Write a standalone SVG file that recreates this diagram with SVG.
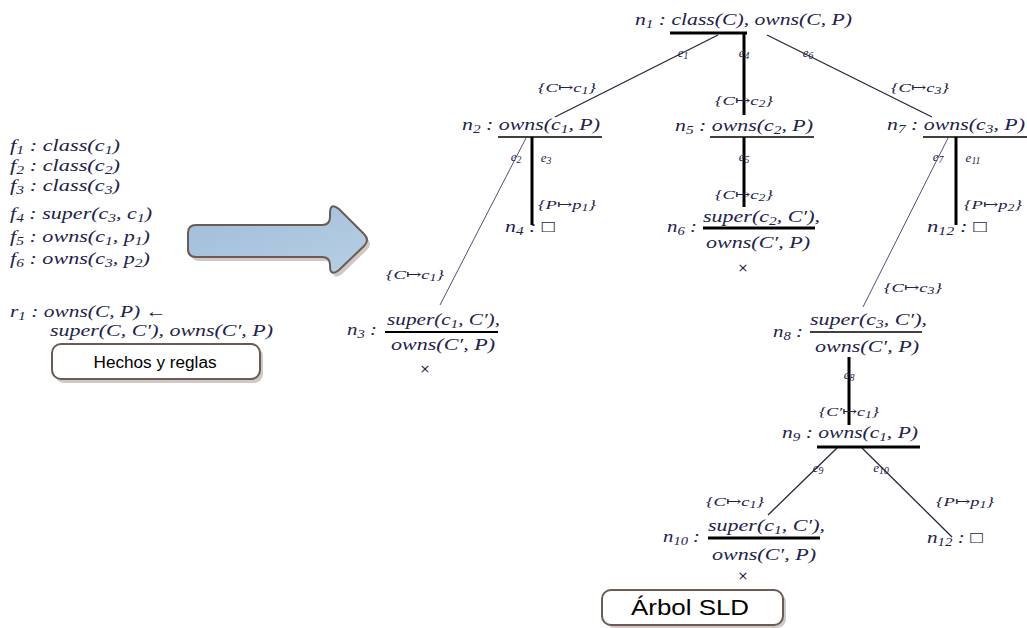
<svg xmlns="http://www.w3.org/2000/svg" width="1027" height="628" viewBox="0 0 1027 628">
<style>
.m{font-family:"Liberation Serif","DejaVu Serif",serif;font-style:italic;font-size:17px;fill:#22224a}
.l{font-family:"Liberation Serif","DejaVu Serif",serif;font-style:italic;font-size:13px;fill:#22224a}
.s{font-size:70%;baseline-shift:-3px}
.ss{font-size:75%;baseline-shift:-2px}
.c{text-anchor:middle}
.x{font-family:"DejaVu Sans",sans-serif;font-size:13px;fill:#22224a;text-anchor:middle}
.bar{stroke:#000;fill:none}
.thick{stroke:#000;stroke-width:3;fill:none}
.thin{stroke:#2a2438;stroke-width:1.3;fill:none}
.hair{stroke:#5c4a78;stroke-width:1;fill:none}
.box{fill:#fff;stroke:#6b5a55;stroke-width:2}
.shadow{fill:#cfc8c4}
.bt{font-family:"Liberation Sans",Arial,sans-serif;fill:#000;text-anchor:middle}
</style>
<defs>
<linearGradient id="ag" x1="0" y1="0" x2="1" y2="1">
<stop offset="0" stop-color="#9fbcd9"/>
<stop offset="1" stop-color="#b7cfe4"/>
</linearGradient>
</defs>

<g id="facts">
<text class="m" x="10" y="151" textLength="110" lengthAdjust="spacingAndGlyphs">f<tspan class="s">1</tspan> : class(c<tspan class="s">1</tspan>)</text>
<text class="m" x="10" y="171" textLength="110" lengthAdjust="spacingAndGlyphs">f<tspan class="s">2</tspan> : class(c<tspan class="s">2</tspan>)</text>
<text class="m" x="10" y="191" textLength="110" lengthAdjust="spacingAndGlyphs">f<tspan class="s">3</tspan> : class(c<tspan class="s">3</tspan>)</text>
<text class="m" x="10" y="219" textLength="142" lengthAdjust="spacingAndGlyphs">f<tspan class="s">4</tspan> : super(c<tspan class="s">3</tspan>, c<tspan class="s">1</tspan>)</text>
<text class="m" x="10" y="242" textLength="140" lengthAdjust="spacingAndGlyphs">f<tspan class="s">5</tspan> : owns(c<tspan class="s">1</tspan>, p<tspan class="s">1</tspan>)</text>
<text class="m" x="10" y="264" textLength="140" lengthAdjust="spacingAndGlyphs">f<tspan class="s">6</tspan> : owns(c<tspan class="s">3</tspan>, p<tspan class="s">2</tspan>)</text>
<text class="m" x="10" y="317" textLength="157" lengthAdjust="spacingAndGlyphs">r<tspan class="s">1</tspan> : owns(C, P) ←</text>
<text class="m" x="50" y="336" textLength="223" lengthAdjust="spacingAndGlyphs">super(C, C′), owns(C′, P)</text>
</g>

<g id="box-hechos">
<rect class="shadow" x="55" y="347" width="208" height="36" rx="9"/>
<rect class="box" x="52" y="344" width="208" height="35" rx="9"/>
<text class="bt" x="155" y="368" font-size="16" textLength="123" lengthAdjust="spacingAndGlyphs">Hechos y reglas</text>
</g>

<g id="big-arrow">
<path class="shadow" transform="translate(3,4)" d="M196,225 L322,225 Q330,225 330,217 L330,213 Q330,202 339,209 L364,234 Q370,240 364,246 L339,270 Q330,277 330,266 L330,265 Q330,257 322,257 L196,257 Q188,257 188,249 L188,233 Q188,225 196,225 Z"/>
<path fill="url(#ag)" stroke="#6b5a55" stroke-width="2" d="M196,225 L322,225 Q330,225 330,217 L330,213 Q330,202 339,209 L364,234 Q370,240 364,246 L339,270 Q330,277 330,266 L330,265 Q330,257 322,257 L196,257 Q188,257 188,249 L188,233 Q188,225 196,225 Z"/>
</g>

<g id="connectors">
<line class="thin" x1="718" y1="35" x2="555" y2="117"/>
<line class="thick" x1="744" y1="33" x2="744" y2="115"/>
<line class="thin" x1="767" y1="35" x2="932" y2="117"/>
<line class="hair" x1="526" y1="138" x2="440" y2="305"/>
<line class="thick" x1="532" y1="137" x2="532" y2="225"/>
<line class="thick" x1="744" y1="137" x2="744" y2="207"/>
<line class="hair" x1="948" y1="138" x2="863" y2="307"/>
<line class="thick" x1="956" y1="137" x2="956" y2="225"/>
<line class="thick" x1="849" y1="357" x2="849" y2="425"/>
<line class="thin" x1="837" y1="448" x2="768" y2="515"/>
<line class="thin" x1="862" y1="448" x2="952" y2="537"/>

<text class="l c" x="683" y="57">e<tspan class="ss">1</tspan></text>
<text class="l c" x="744" y="57">e<tspan class="ss">4</tspan></text>
<text class="l c" x="808" y="57">e<tspan class="ss">6</tspan></text>
<text class="l c" x="567" y="92" textLength="58" lengthAdjust="spacingAndGlyphs">{C↦c<tspan class="ss">1</tspan>}</text>
<text class="l c" x="744" y="105" textLength="58" lengthAdjust="spacingAndGlyphs">{C↦c<tspan class="ss">2</tspan>}</text>
<text class="l c" x="920" y="92" textLength="58" lengthAdjust="spacingAndGlyphs">{C↦c<tspan class="ss">3</tspan>}</text>
<text class="l c" x="516" y="161">e<tspan class="ss">2</tspan></text>
<text class="l c" x="546" y="162">e<tspan class="ss">3</tspan></text>
<text class="l c" x="567" y="209" textLength="58" lengthAdjust="spacingAndGlyphs">{P↦p<tspan class="ss">1</tspan>}</text>
<text class="l c" x="744" y="161">e<tspan class="ss">5</tspan></text>
<text class="l c" x="744" y="199" textLength="58" lengthAdjust="spacingAndGlyphs">{C↦c<tspan class="ss">2</tspan>}</text>
<text class="l c" x="938" y="161">e<tspan class="ss">7</tspan></text>
<text class="l c" x="973" y="162">e<tspan class="ss">11</tspan></text>
<text class="l c" x="993" y="209" textLength="58" lengthAdjust="spacingAndGlyphs">{P↦p<tspan class="ss">2</tspan>}</text>
<text class="l c" x="415" y="279" textLength="58" lengthAdjust="spacingAndGlyphs">{C↦c<tspan class="ss">1</tspan>}</text>
<text class="l c" x="913" y="292" textLength="58" lengthAdjust="spacingAndGlyphs">{C↦c<tspan class="ss">3</tspan>}</text>
<text class="l c" x="849" y="379">e<tspan class="ss">8</tspan></text>
<text class="l c" x="849" y="416" textLength="60" lengthAdjust="spacingAndGlyphs">{C′↦c<tspan class="ss">1</tspan>}</text>
<text class="l c" x="818" y="472">e<tspan class="ss">9</tspan></text>
<text class="l c" x="881" y="472">e<tspan class="ss">10</tspan></text>
<text class="l c" x="735" y="506" textLength="58" lengthAdjust="spacingAndGlyphs">{C↦c<tspan class="ss">1</tspan>}</text>
<text class="l c" x="965" y="506" textLength="58" lengthAdjust="spacingAndGlyphs">{P↦p<tspan class="ss">1</tspan>}</text>
</g>

<g id="n1">
<text class="m" x="635" y="25" textLength="217" lengthAdjust="spacingAndGlyphs">n<tspan class="s">1</tspan> : class(C), owns(C, P)</text>
<line class="thick" x1="670" y1="33" x2="747" y2="33"/>
</g>
<g id="n2">
<text class="m" x="462" y="130" textLength="138" lengthAdjust="spacingAndGlyphs">n<tspan class="s">2</tspan> : owns(c<tspan class="s">1</tspan>, P)</text>
<line class="bar" stroke-width="1.5" x1="498" y1="137" x2="602" y2="137"/>
</g>
<g id="n3">
<text class="m" x="347" y="335" textLength="30" lengthAdjust="spacingAndGlyphs">n<tspan class="s">3</tspan> :</text>
<text class="m" x="387" y="325" textLength="113" lengthAdjust="spacingAndGlyphs">super(c<tspan class="s">1</tspan>, C′),</text>
<line class="bar" stroke-width="2" x1="385" y1="332" x2="498" y2="332"/>
<text class="m c" x="443" y="350" textLength="104" lengthAdjust="spacingAndGlyphs">owns(C′, P)</text>
<text class="x" x="425" y="373">×</text>
</g>
<g id="n4">
<text class="m" x="505" y="232" textLength="50" lengthAdjust="spacingAndGlyphs">n<tspan class="s">4</tspan> : □</text>
</g>
<g id="n5">
<text class="m" x="675" y="131" textLength="138" lengthAdjust="spacingAndGlyphs">n<tspan class="s">5</tspan> : owns(c<tspan class="s">2</tspan>, P)</text>
<line class="bar" stroke-width="1.5" x1="710" y1="137" x2="814" y2="137"/>
</g>
<g id="n6">
<text class="m" x="667" y="232" textLength="30" lengthAdjust="spacingAndGlyphs">n<tspan class="s">6</tspan> :</text>
<text class="m" x="703" y="222" textLength="117" lengthAdjust="spacingAndGlyphs">super(c<tspan class="s">2</tspan>, C′),</text>
<line class="thick" x1="703" y1="228" x2="815" y2="228"/>
<text class="m c" x="758" y="248" textLength="104" lengthAdjust="spacingAndGlyphs">owns(C′, P)</text>
<text class="x" x="743" y="272">×</text>
</g>
<g id="n7">
<text class="m" x="887" y="130" textLength="138" lengthAdjust="spacingAndGlyphs">n<tspan class="s">7</tspan> : owns(c<tspan class="s">3</tspan>, P)</text>
<line class="bar" stroke-width="1.5" x1="923" y1="137" x2="1027" y2="137"/>
</g>
<g id="n12a">
<text class="m" x="927" y="232" textLength="60" lengthAdjust="spacingAndGlyphs">n<tspan class="s">12</tspan> : □</text>
</g>
<g id="n8">
<text class="m" x="773" y="337" textLength="30" lengthAdjust="spacingAndGlyphs">n<tspan class="s">8</tspan> :</text>
<text class="m" x="810" y="325" textLength="117" lengthAdjust="spacingAndGlyphs">super(c<tspan class="s">3</tspan>, C′),</text>
<line class="bar" stroke-width="1.5" x1="810" y1="332" x2="922" y2="332"/>
<text class="m c" x="867" y="352" textLength="104" lengthAdjust="spacingAndGlyphs">owns(C′, P)</text>
</g>
<g id="n9">
<text class="m" x="782" y="438" textLength="136" lengthAdjust="spacingAndGlyphs">n<tspan class="s">9</tspan> : owns(c<tspan class="s">1</tspan>, P)</text>
<line class="thick" x1="817" y1="447" x2="920" y2="447"/>
</g>
<g id="n10">
<text class="m" x="663" y="542" textLength="37" lengthAdjust="spacingAndGlyphs">n<tspan class="s">10</tspan> :</text>
<text class="m" x="708" y="531" textLength="117" lengthAdjust="spacingAndGlyphs">super(c<tspan class="s">1</tspan>, C′),</text>
<line class="thick" x1="708" y1="538" x2="820" y2="538"/>
<text class="m c" x="764" y="560" textLength="104" lengthAdjust="spacingAndGlyphs">owns(C′, P)</text>
<text class="x" x="743" y="580">×</text>
</g>
<g id="n12b">
<text class="m" x="927" y="543" textLength="56" lengthAdjust="spacingAndGlyphs">n<tspan class="s">12</tspan> : □</text>
</g>

<g id="box-arbol">
<rect class="shadow" x="605" y="593" width="181" height="35" rx="9"/>
<rect class="box" x="602" y="590" width="181" height="35" rx="9"/>
<text class="bt" x="690" y="615" font-size="22" textLength="118" lengthAdjust="spacingAndGlyphs">Árbol SLD</text>
</g>
</svg>
